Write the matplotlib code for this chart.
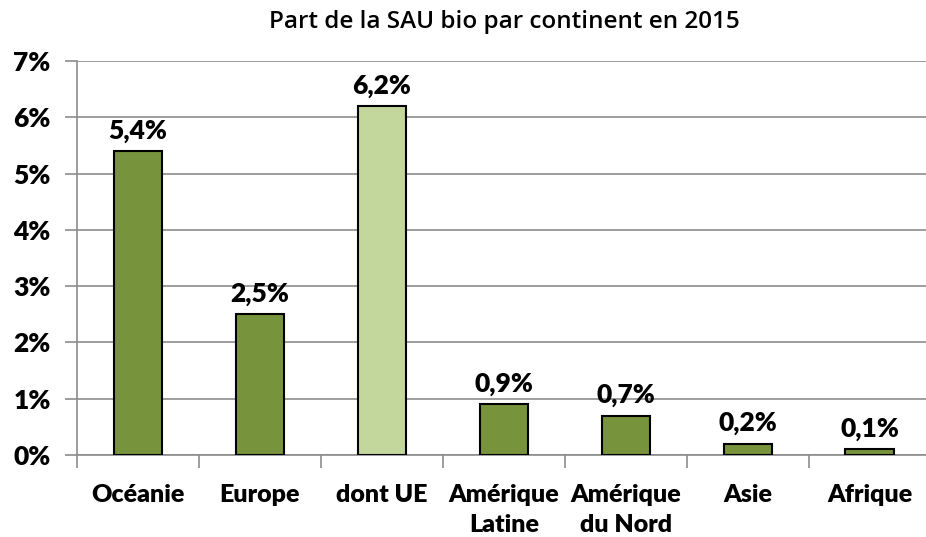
import matplotlib
matplotlib.use("Agg")
import matplotlib.pyplot as plt
from matplotlib.ticker import FixedLocator

# ── Data ──────────────────────────────────────────────────────────────────────

CONTINENTS = ["Océanie", "Europe", "dont UE", "Amérique\nLatine",
              "Amérique\ndu Nord", "Asie", "Afrique"]
SHARE_PCT = [5.4, 2.5, 6.2, 0.9, 0.7, 0.2, 0.1]
HIGHLIGHT = "dont UE"

TITLE = "Part de la SAU bio par continent en 2015"

DARK_GREEN = "#77933C"
LIGHT_GREEN = "#C3D69B"
GRID_GRAY = "#8C8C8C"

# ── Plot ──────────────────────────────────────────────────────────────────────

plt.rcParams["font.family"] = ["Lato", "DejaVu Sans"]

fig = plt.figure(figsize=(9.26, 5.37), dpi=100)
ax = fig.add_axes([77 / 926, 1 - 455 / 537, 1 - 77 / 926, (455 - 61) / 537])

x = list(range(len(CONTINENTS)))
colors = [LIGHT_GREEN if c == HIGHLIGHT else DARK_GREEN for c in CONTINENTS]
bars = ax.bar(x, SHARE_PCT, width=0.4, color=colors, edgecolor="black",
              linewidth=1.5, zorder=3)

for b, v in zip(bars, SHARE_PCT):
    ax.annotate(f"{v:.1f}%".replace(".", ","),
                (b.get_x() + b.get_width() / 2, v),
                xytext=(0, 6), textcoords="offset points",
                ha="center", va="bottom", fontsize=19, fontweight="heavy")

ax.set_ylim(0, 7)
ax.set_xlim(-0.5, 6.46)
ax.set_yticks(range(0, 8))
ax.set_yticklabels([f"{i}%" for i in range(0, 8)], fontsize=19, fontweight="heavy")
ax.set_xticks(x)
ax.set_xticklabels(CONTINENTS, fontsize=18, fontweight="heavy", linespacing=1.45)
ax.tick_params(axis="x", length=0, pad=21)
ax.xaxis.set_minor_locator(FixedLocator([i + 0.5 for i in range(-1, 7)]))
ax.tick_params(axis="x", which="minor", length=9, color=GRID_GRAY, width=1.2)
ax.tick_params(axis="y", length=9, color=GRID_GRAY, width=1.2, pad=10)

ax.grid(axis="y", color=GRID_GRAY, linewidth=1.2, zorder=0)
for s in ["top", "right"]:
    ax.spines[s].set_visible(False)
for s in ["left", "bottom"]:
    ax.spines[s].set_color(GRID_GRAY)
    ax.spines[s].set_linewidth(1.2)

fig.text((77 + 932) / 2 / 926, 1 - 22 / 537, TITLE, ha="center", va="center",
         fontsize=17.5, family=["Open Sans", "DejaVu Sans"], fontweight="semibold")

fig.savefig("out.png", dpi=100)
